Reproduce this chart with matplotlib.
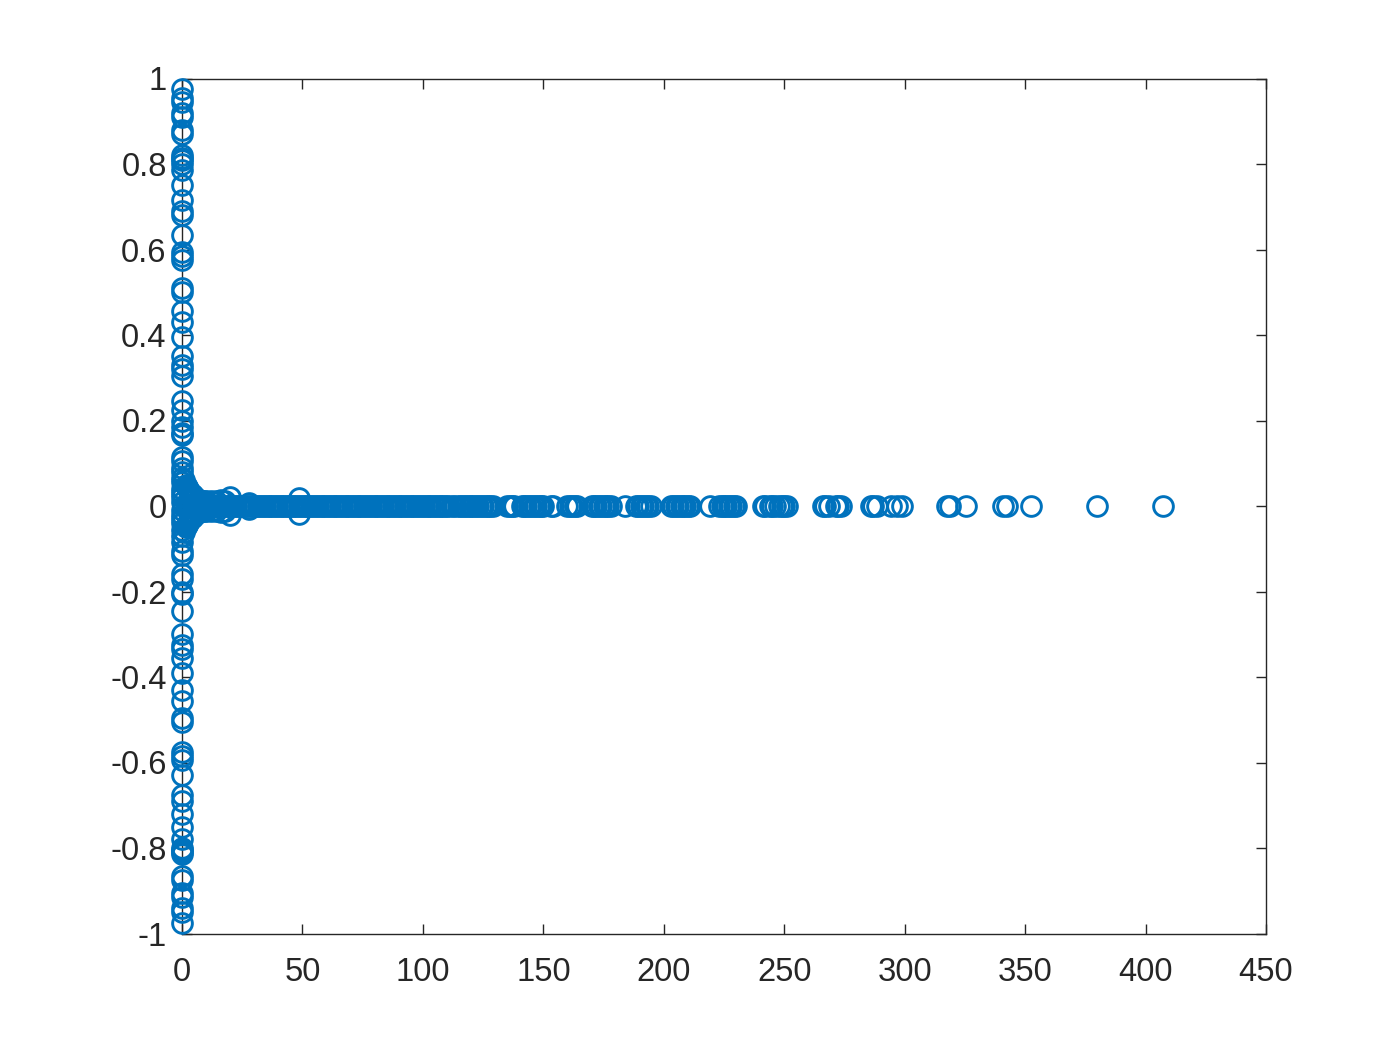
import matplotlib
matplotlib.use("Agg")
import matplotlib.pyplot as plt

# - DATA -
# points on the vertical stem, x is close to 0
stem_y = [0.975, 0.955, 0.945, 0.92, 0.91, 0.88, 0.87, 0.82, 0.815, 0.81, 0.80, 0.785,
          0.75, 0.715, 0.69, 0.68, 0.635, 0.595, 0.585, 0.575, 0.51, 0.50, 0.455, 0.43,
          0.395, 0.35, 0.33, 0.32, 0.305, 0.245, 0.225, 0.20, 0.185, 0.17, 0.165,
          0.115, 0.105, 0.09, 0.08, 0.065, 0.055, 0.04, 0.03, 0.02, 0.01,
          -0.01, -0.02, -0.03, -0.04, -0.055, -0.07, -0.085, -0.105, -0.115,
          -0.16, -0.17, -0.20, -0.205, -0.245, -0.30, -0.325, -0.335, -0.355, -0.39,
          -0.43, -0.455, -0.495, -0.505, -0.575, -0.585, -0.595, -0.63, -0.675, -0.69,
          -0.72, -0.75, -0.78, -0.80, -0.805, -0.81, -0.815, -0.865, -0.875, -0.905,
          -0.915, -0.94, -0.95, -0.975]

# blob around the origin
blob_x = [1.0, 1.5, 2.0, 2.5, 3.0, 3.5, 4.0, 4.5, 5.0, 6.0, 7.0, 8.0, 9.0, 10.0, 12.0, 14.0, 16.0, 18.0,
          1.0, 1.5, 2.0, 2.5, 3.0, 3.5, 4.0, 4.5, 5.0, 6.0, 7.0, 8.0, 9.0, 10.0, 12.0, 14.0, 16.0, 18.0,
          20.0, 20.0, 28.0, 28.0, 48.5, 48.5]
blob_y = [0.06, 0.05, 0.045, 0.04, 0.035, 0.03, 0.028, 0.025, 0.02, 0.018, 0.015, 0.012, 0.012, 0.012, 0.012, 0.012, 0.014, 0.012,
          -0.06, -0.05, -0.045, -0.04, -0.035, -0.03, -0.028, -0.025, -0.02, -0.018, -0.015, -0.012, -0.012, -0.012, -0.012, -0.012, -0.014, -0.012,
          0.02, -0.02, 0.008, -0.008, 0.018, -0.018]

# points on the horizontal line y = 0
tail_x = [0.5, 1.5, 2.5, 3.5, 4.5, 5.5, 6.5, 7.5, 8.5, 9.5, 10.5, 11.5, 12.5, 13.5, 14.5, 15.5, 16.5,
          17.5, 18.5, 19.5, 20.5, 21.5, 22.5, 23.5, 24.5, 25.5, 26.5, 27.5, 28.5, 29.5, 30.5, 31.5,
          32.5, 33.5, 34.5, 35.5, 36.5, 37.5, 38.5, 39.5, 40.5, 41.5, 42.5, 43.5, 44.5, 45.5, 46.5,
          47.5, 48.5, 49.5, 50.5, 51.5, 52.5, 53.5, 54.5, 55.5, 56.5, 57.5, 58.5, 59.5, 60.5, 61.5,
          62.5, 63.5, 64.5, 65.5, 66.5, 67.5, 68.5, 69.5, 70.5, 71.5, 72.5, 73.5, 74.5, 75.5, 76.5,
          77.5, 78.5, 79.5, 80.5, 81.5, 82.5, 83.5, 84.5, 85.5, 86.5, 87.5, 88.5, 89.5, 90.5, 91.5,
          92.5, 93.5, 94.5, 95.5, 96.5, 97.5, 98.5, 99.5, 100.5, 101.5, 102.5, 103.5, 104.5, 105.5,
          106.5, 107.5, 108.5, 109.5, 110.5, 112, 113.5, 115, 116, 117, 118, 119, 120, 121, 122, 123,
          124, 125, 126, 127, 128, 129, 135, 136, 137, 138, 141, 142, 143, 144, 145, 146, 147, 148,
          149, 150, 153, 154, 160, 161, 162, 163, 164, 170, 171, 172, 173, 174, 175, 176, 177, 178,
          184, 188.5, 189.5, 190.5, 191.5, 192.5, 193.5, 194.5, 203, 204, 205, 206, 207, 208, 209,
          210, 211, 219, 223, 224, 225, 226, 227, 228, 229, 230, 241, 242, 244, 245, 246, 248, 249,
          250, 251, 266, 267, 268.5, 271.5, 272.5, 273.5, 286, 287, 288.5, 294.5, 297, 299, 317.5,
          319, 325.5, 341, 342.5, 352.5, 380, 407.3]

xticks = [0, 50, 100, 150, 200, 250, 300, 350, 400, 450]
yticks = [-1, -0.8, -0.6, -0.4, -0.2, 0, 0.2, 0.4, 0.6, 0.8, 1]
yticklabels = ["-1", "-0.8", "-0.6", "-0.4", "-0.2", "0", "0.2", "0.4", "0.6", "0.8", "1"]
# - DATA -

plt.rcParams["font.family"] = ["Liberation Sans", "DejaVu Sans"]

blue = "#0072BD"
dark = "#262626"

fig = plt.figure(figsize=(7, 5.25), dpi=200)
ax = fig.add_axes([182 / 1400, 1 - 933.5 / 1050, 1084 / 1400, 855 / 1050])

style = dict(linestyle="none", marker="o", markersize=7.1, markerfacecolor="none",
             markeredgecolor=blue, markeredgewidth=1.05, clip_on=False, zorder=3)
ax.plot([0.1] * len(stem_y), stem_y, **style)
ax.plot(blob_x, blob_y, **style)
ax.plot(tail_x, [0] * len(tail_x), **style)

ax.set_xlim(0, 450)
ax.set_ylim(-1, 1)
ax.set_xticks(xticks)
ax.set_yticks(yticks)
ax.set_yticklabels(yticklabels)
ax.tick_params(direction="in", top=True, right=True, length=3.6, width=0.5,
               color=dark, labelcolor=dark, labelsize=11.8)
ax.tick_params(axis="x", pad=8.4)
ax.tick_params(axis="y", pad=5.5)
for s in ax.spines.values():
    s.set_linewidth(0.5)
    s.set_color(dark)
    s.set_zorder(1)

fig.savefig("out.png", dpi=200)
